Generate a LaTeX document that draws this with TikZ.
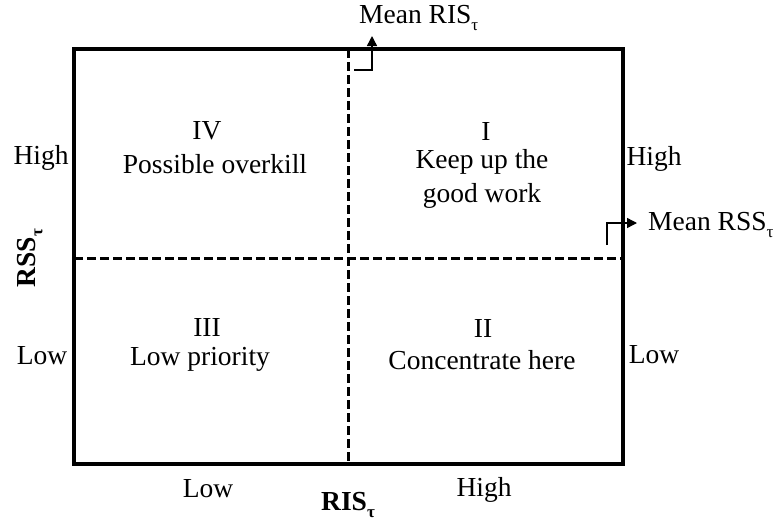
\documentclass[tikz,border=0pt]{standalone}
\usepackage{fontspec}
\setmainfont{Liberation Serif}
\usetikzlibrary{arrows.meta}
\newcommand{\tausub}{\raisebox{-0.25em}{\fontsize{17}{17}\selectfont τ}}
\begin{document}
\begin{tikzpicture}[x=1pt,y=-1pt,
  txt/.style={font=\fontsize{27.5}{34}\selectfont, inner sep=0pt, align=center},
  axislbl/.style={font=\fontsize{27.5}{34}\selectfont\bfseries, inner sep=0pt},
  frame/.style={line width=3.4pt},
  divider/.style={line width=3pt, dash pattern=on 9pt off 4pt},
  bent/.style={line width=1.4pt, -{Triangle[length=10pt,width=10pt]}}]
\useasboundingbox (0,0) rectangle (777,523);
\fill[white] (0,0) rectangle (777,523);
% frame and dividers
\coordinate (tl) at (74,49);
\coordinate (br) at (623,464);
\draw[frame] (tl) rectangle (br);
\coordinate (vt) at (348,49);
\coordinate (vb) at (348,464);
\coordinate (hl) at (74,258);
\coordinate (hr) at (623,258);
\draw[divider] (vt) -- (vb);
\draw[divider] (hl) -- (hr);
% quadrant texts
\node[txt] (q4n) at (207,131) {IV};
\node[txt] (q4t) at (215,164) {Possible overkill};
\node[txt] (q1n) at (486,131) {I};
\node[txt] (q1t) at (482,179) {Keep up the\\good work};
\node[txt] (q3n) at (207,327) {III};
\node[txt] (q3t) at (200,359) {Low priority};
\node[txt] (q2n) at (483,328) {II};
\node[txt] (q2t) at (482,360) {Concentrate here};
% side labels
\node[txt] (lhigh) at (41,158) {High};
\node[txt] (rhigh) at (654,159) {High};
\node[txt] (llow) at (42,356) {Low};
\node[txt] (rlow) at (654,355) {Low};
\node[txt] (blow) at (208,489) {Low};
\node[txt] (bhigh) at (484,490) {High};
\node[axislbl] (xax) at (348,505) {RIS\tausub};
\node[axislbl, rotate=90] (yax) at (30,258) {RSS\tausub};
% mean arrows
\node[txt, anchor=west] (mris) at (359,18) {Mean RIS\tausub};
\coordinate (a1s) at (354,70);
\coordinate (a1k) at (372,70);
\coordinate (a1e) at (372,36);
\draw[bent] (a1s) -- (a1k) -- (a1e);
\node[txt, anchor=west] (mrss) at (648,225) {Mean RSS\tausub};
\coordinate (a2s) at (607,245);
\coordinate (a2k) at (607,223);
\coordinate (a2e) at (637,223);
\draw[bent] (a2s) -- (a2k) -- (a2e);
\end{tikzpicture}
\end{document}
